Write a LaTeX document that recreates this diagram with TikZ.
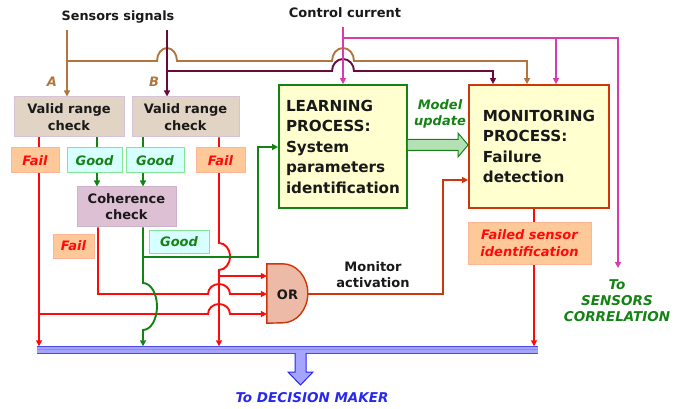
\documentclass[tikz,border=0pt]{standalone}
\usepackage{fontspec}
\setmainfont{DejaVu Sans}
\usetikzlibrary{arrows.meta,backgrounds}
\definecolor{cbrn}{RGB}{176,118,62}
\definecolor{cmar}{RGB}{105,10,58}
\definecolor{cpnk}{RGB}{215,60,175}
\definecolor{crd}{RGB}{255,10,10}
\definecolor{cgrn}{RGB}{20,130,20}
\definecolor{corl}{RGB}{205,55,10}
\definecolor{cblu}{RGB}{40,40,240}
\definecolor{ctan}{RGB}{226,212,196}
\definecolor{ctanb}{RGB}{215,195,215}
\definecolor{ccoh}{RGB}{222,192,212}
\definecolor{ccohb}{RGB}{205,178,205}
\definecolor{cfail}{RGB}{255,200,152}
\definecolor{cfailb}{RGB}{255,180,150}
\definecolor{cgood}{RGB}{215,255,255}
\definecolor{cgoodb}{RGB}{130,230,150}
\definecolor{cyel}{RGB}{255,255,208}
\definecolor{corf}{RGB}{236,186,166}
\definecolor{cmu}{RGB}{180,225,180}
\definecolor{cbus}{RGB}{165,165,255}
\definecolor{ctxt}{RGB}{25,25,25}
\begin{document}
\begin{tikzpicture}[x=1pt,y=-1pt,
  >={Triangle[length=6pt,width=6pt]},
  ln/.style={line width=1.9pt},
  brnl/.style={ln,draw=cbrn},
  marl/.style={ln,draw=cmar},
  pnkl/.style={ln,draw=cpnk},
  rdl/.style={ln,draw=crd},
  grnl/.style={ln,draw=cgrn},
  orll/.style={ln,draw=corl},
  sbox/.style={draw,line width=1pt,inner sep=0pt,align=center},
  vr/.style={sbox,fill=ctan,draw=ctanb,minimum height=40,text=ctxt,
    font=\fontsize{13}{16.5}\selectfont\bfseries},
  cohs/.style={sbox,fill=ccoh,draw=ccohb,minimum height=40,minimum width=99,text=ctxt,
    font=\fontsize{13}{16}\selectfont\bfseries},
  failb/.style={sbox,fill=cfail,draw=cfailb,minimum height=25,text=crd,
    font=\fontsize{13}{17}\selectfont\bfseries\itshape},
  goodb/.style={sbox,fill=cgood,draw=cgoodb,minimum height=25,text=cgrn,
    font=\fontsize{13}{16}\selectfont\bfseries\itshape},
  bigbox/.style={draw,line width=1.8pt,fill=cyel,inner sep=0pt,align=left,
    minimum height=123,text=ctxt,font=\fontsize{15.2}{20.5}\selectfont\bfseries},
  lbl/.style={inner sep=0pt,align=center},
]
\useasboundingbox (0,0) rectangle (686,409);

% ---- boxes ----
\node[vr,minimum width=110] (vrA) at (69,117) {Valid range\\check};
\node[vr,minimum width=107] (vrB) at (185.5,117) {Valid range\\check};
\node[cohs] (coh) at (126.5,207) {Coherence\\check};
\node[failb,minimum width=48] (failA) at (35,160.5) {Fail};
\node[goodb,minimum width=55] (goodA) at (94.5,160.5) {Good};
\node[goodb,minimum width=58] (goodB) at (155,160.5) {Good};
\node[failb,minimum width=49] (failB) at (220.5,160.5) {Fail};
\node[failb,minimum width=41,minimum height=24] (failC) at (73.5,246) {Fail};
\node[goodb,minimum width=60,minimum height=22] (goodC) at (179,242) {Good};
\node[bigbox,draw=cgrn,minimum width=128] (learn) at (343,146.5)
  {LEARNING\\PROCESS:\\System\\parameters\\identification};
\node[bigbox,draw=corl,minimum width=140] (mon) at (539,146.5)
  {MONITORING\\PROCESS:\\Failure\\detection};
\node[failb,minimum width=123,minimum height=41] (fsid) at (529.5,243.5)
  {Failed sensor\\identification};

% OR gate
\node[inner sep=0pt,minimum width=41,minimum height=59] (orgate) at (287.5,293.5) {};
\draw[draw=corl,fill=corf,line width=1.4pt] (orgate.north west) -- ++(16,0)
  arc[start angle=270,end angle=450,x radius=25,y radius=29.5] -- (orgate.south west) -- cycle;
\node[lbl,text=ctxt,font=\fontsize{13}{16}\selectfont\bfseries] (ort) at (287.5,295) {OR};

% bus
\node[inner sep=0pt,minimum width=501,minimum height=6.5] (bus) at (287.5,349.75) {};
\fill[cbus] (bus.north west) rectangle (bus.south east);
\draw[cblu!85,line width=1.2pt] (bus.north west) -- (bus.north east);
\draw[cblu!55,line width=0.8pt] (bus.west) -- (bus.east);
\draw[cblu!85,line width=1.2pt] (bus.south west) -- (bus.south east);

% decision arrow
\coordinate (dtop) at (300.5,353);
\draw[draw=cblu,fill=cbus,line width=1pt] ([xshift=-5.5pt]dtop) -- ++(0,19) -- ++(-7,0)
  -- (300.5,385) -- (313,372) -- ++(-7,0) -- ([xshift=5.5pt]dtop);

% model update arrow
\draw[draw=cgrn,fill=cmu,line width=1pt] (learn.east |- 0,139.5) -- (458,139.5) -- (458,133)
  -- (mon.west |- 0,145) -- (458,157) -- (458,150.5) -- (learn.east |- 0,150.5);

% ---- texts ----
\node[lbl,text=ctxt,font=\fontsize{12.8}{15}\selectfont\bfseries] (sig) at (118,17) {Sensors signals};
\node[lbl,text=ctxt,font=\fontsize{13}{15}\selectfont\bfseries] (ctl) at (345,13) {Control current};
\node[lbl,text=cbrn,font=\fontsize{13}{15}\selectfont\bfseries\itshape] (la) at (52,82) {A};
\node[lbl,text=cbrn,font=\fontsize{13}{15}\selectfont\bfseries\itshape] (lb) at (154,82) {B};
\node[lbl,text=cgrn,font=\fontsize{13}{16}\selectfont\bfseries\itshape] (mu) at (440,114) {Model\\update};
\node[lbl,text=ctxt,font=\fontsize{13}{16}\selectfont\bfseries] (ma) at (373,275) {Monitor\\activation};
\node[lbl,text=cgrn,font=\fontsize{13.5}{16}\selectfont\bfseries\itshape] (sc) at (617,301) {To\\SENSORS\\CORRELATION};
\node[lbl,text=cblu,font=\fontsize{13.5}{16}\selectfont\bfseries\itshape] (dm) at (312,398) {To DECISION MAKER};

% ---- coordinates ----
\coordinate (xa) at (39,0);
\coordinate (xga) at (97,0);
\coordinate (xgb) at (143,0);
\coordinate (xfb) at (219,0);
\coordinate (xfc) at (98,0);
\coordinate (xfs) at (534,0);
\coordinate (y276) at (0,276);
\coordinate (y294) at (0,294);
\coordinate (y314) at (0,314);

% ---- connectors ----
\begin{scope}[on background layer]
% sensor A (brown)
\draw[brnl,->] (67,30) -- (vrA.north -| 67,0);
\draw[brnl,->] (67,61) -- (157,61) arc[start angle=180,end angle=360,x radius=10,y radius=13]
  -- (332,61) arc[start angle=180,end angle=360,x radius=11,y radius=13]
  -- (527,61) -- (mon.north -| 527,0);
% sensor B (maroon)
\draw[marl,->] (167,30) -- (vrB.north -| 167,0);
\draw[marl,->] (167,71) -- (332,71) arc[start angle=180,end angle=360,x radius=11,y radius=12]
  -- (493,71) -- (mon.north -| 493,0);
% control current (pink)
\draw[pnkl,->] (343,27) -- (learn.north);
\draw[pnkl,->] (343,38) -- (618,38) -- (618,268);
\draw[pnkl,->] (556,38) -- (mon.north -| 556,0);
% red fail lines
\draw[rdl,->] (vrA.south -| xa) -- (xa |- bus.north);
\draw[rdl,->] (39,314) -- (208,314) arc[start angle=180,end angle=360,x radius=11,y radius=10]
  -- (orgate.west |- y314);
\draw[rdl,->] (coh.south -| xfc) -- (98,294) -- (208,294)
  arc[start angle=180,end angle=360,x radius=11,y radius=10] -- (orgate.west |- y294);
\draw[rdl,->] (vrB.south -| xfb) -- (219,243)
  arc[start angle=270,end angle=450,x radius=11,y radius=13.5] -- (xfb |- bus.north);
\draw[rdl,->] (219,276) -- (orgate.west |- y276);
\draw[rdl,->] (mon.south -| xfs) -- (xfs |- bus.north);
% green good lines
\draw[grnl,->] (vrA.south -| xga) -- (xga |- coh.north);
\draw[grnl,->] (vrB.south -| xgb) -- (xgb |- coh.north);
\draw[grnl,->] (coh.south -| xgb) -- (143,283)
  arc[start angle=270,end angle=450,x radius=14,y radius=23.5] -- (xgb |- bus.north);
\draw[grnl,->] (143,257) -- (258,257) -- (258,147) -- (learn.west |- 0,147);
% OR output
\draw[orll,->] (orgate.east |- y294) -- (443,294) -- (443,180) -- (mon.west |- 0,180);
\end{scope}
\end{tikzpicture}
\end{document}
